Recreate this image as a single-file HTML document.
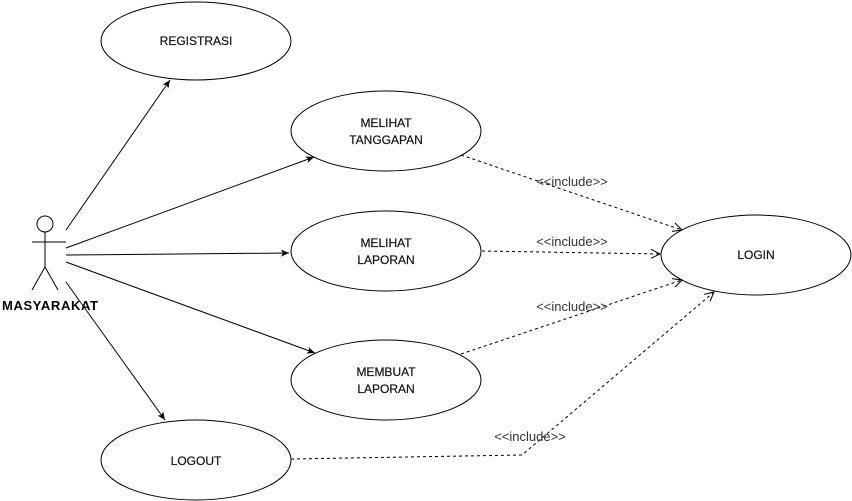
<!DOCTYPE html>
<html><head><meta charset="utf-8"><style>
html,body{margin:0;padding:0;background:#fff;}
svg{display:block;}
text{font-family:"Liberation Sans",Arial,sans-serif;}
</style></head><body>
<svg width="852" height="501" viewBox="0 0 852 501" xmlns="http://www.w3.org/2000/svg">
<defs>
<marker id="a" markerWidth="10" markerHeight="10" refX="8" refY="5" orient="auto" markerUnits="userSpaceOnUse">
<path d="M0,1.5 L8,5 L0,8.5 L2,5 Z" fill="#000"/>
</marker>
<marker id="o" markerWidth="12" markerHeight="12" refX="10" refY="6" orient="auto" markerUnits="userSpaceOnUse">
<path d="M1,1.5 L10,6 L1,10.5" fill="none" stroke="#000" stroke-width="1"/>
</marker>
</defs>
<g fill="#fff" stroke="#000" stroke-width="1">
<ellipse cx="196" cy="41" rx="95" ry="39"/>
<ellipse cx="386" cy="131" rx="95" ry="40"/>
<ellipse cx="386" cy="251" rx="95" ry="40"/>
<ellipse cx="386" cy="380" rx="95" ry="40"/>
<ellipse cx="196" cy="460" rx="95" ry="40"/>
<ellipse cx="756" cy="255" rx="95" ry="40"/>
</g>
<g font-size="12" text-anchor="middle" fill="#111" stroke="#111" stroke-width="0.2">
<text x="196" y="45">REGISTRASI</text>
<text x="386" y="127">MELIHAT</text><text x="386" y="144">TANGGAPAN</text>
<text x="386" y="247">MELIHAT</text><text x="386" y="264">LAPORAN</text>
<text x="386" y="376">MEMBUAT</text><text x="386" y="393">LAPORAN</text>
<text x="196" y="465">LOGOUT</text>
<text x="756" y="259">LOGIN</text>
</g>
<g stroke="#000" stroke-width="1" fill="none">
<circle cx="45" cy="224" r="8" fill="#fff"/>
<line x1="45" y1="232" x2="45" y2="267"/>
<line x1="32" y1="242" x2="66" y2="242"/>
<line x1="45" y1="267" x2="32" y2="290"/>
<line x1="45" y1="267" x2="58" y2="290"/>
</g>
<text x="2" y="310" font-size="13" font-weight="bold" textLength="96" lengthAdjust="spacing">MASYARAKAT</text>
<g stroke="#000" stroke-width="1" marker-end="url(#a)">
<line x1="66" y1="230" x2="170" y2="80"/>
<line x1="66" y1="248" x2="314" y2="157"/>
<line x1="66" y1="255" x2="289" y2="253"/>
<line x1="66" y1="262" x2="315" y2="353"/>
<line x1="66" y1="282" x2="165" y2="420"/>
</g>
<g stroke="#000" stroke-width="1" fill="none" stroke-dasharray="3,3" marker-end="url(#o)">
<line x1="461" y1="155" x2="682" y2="230"/>
<line x1="482" y1="251" x2="660" y2="254"/>
<line x1="461" y1="354" x2="682" y2="280"/>
<polyline points="291,459 522,455 714,292"/>
</g>
<g font-size="13" text-anchor="middle" fill="#333">
<text x="572" y="186">&lt;&lt;include&gt;&gt;</text>
<text x="572" y="246">&lt;&lt;include&gt;&gt;</text>
<text x="572" y="311">&lt;&lt;include&gt;&gt;</text>
<text x="530" y="441">&lt;&lt;include&gt;&gt;</text>
</g>
</svg>
</body></html>
